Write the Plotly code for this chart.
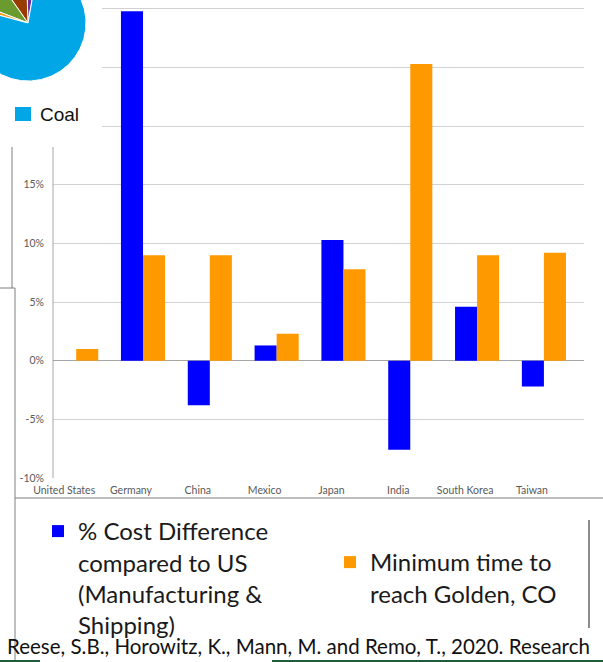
import numpy as np
import plotly.graph_objects as go

W, H = 603, 662

# ---- bar chart data -------------------------------------------------------
countries = ["United States", "Germany", "China", "Mexico",
             "Japan", "India", "South Korea", "Taiwan"]
cost_diff = [0.0, 29.8, -3.8, 1.3, 10.3, -7.6, 4.6, -2.2]
min_time = [1.0, 9.0, 9.0, 2.3, 7.8, 25.3, 9.0, 9.2]

y_tick_vals = [-10, -5, 0, 5, 10, 15, 20, 25, 30]
y_tick_text = ["-10%", "-5%", "0%", "5%", "10%", "15%", "", "", ""]

cost_name = "% Cost Difference<br>compared to US<br>(Manufacturing &<br>Shipping)"
time_name = "Minimum time to<br>reach Golden, CO"

# ---- pie (electricity mix) data --------------------------------------------
pie_shares = [3.3, 9.2, 9.4, 1.7, 76.4]
pie_colors = ["#7030a0", "#993c00", "#6b9b2e", "#f59d1c", "#00a6e6"]
pie_start_deg = 80
coal_label = "Coal"

citation = "Reese, S.B., Horowitz, K., Mann, M. and Remo, T., 2020. Research"


def px(x):
    return x / W


def py(y):
    return 1 - y / H


fig = go.Figure()

fig.add_bar(x=countries, y=cost_diff, name=cost_name, legend="legend",
            marker=dict(color="#0000ff", line=dict(width=0)),
            hoverinfo="x+y")
fig.add_bar(x=countries, y=min_time, name=time_name, legend="legend2",
            marker=dict(color="#ff9900", line=dict(width=0)),
            hoverinfo="x+y")

# pie wedges drawn on a pixel-scaled helper subplot
cx, cy, r = 28, 23, 58
total = sum(pie_shares)
angle = pie_start_deg
for share, color in zip(pie_shares, pie_colors):
    span = share / total * 360
    th = np.radians(np.linspace(angle, angle + span, int(span) + 2))
    xs = [cx] + list(cx + r * np.cos(th)) + [cx]
    ys = [cy] + list(cy - r * np.sin(th)) + [cy]
    fig.add_scatter(x=xs, y=ys, xaxis="x3", yaxis="y3", mode="lines",
                    fill="toself", fillcolor=color,
                    line=dict(color="white", width=1),
                    showlegend=False, hoverinfo="skip")
    angle += span

tick_font = dict(family="Lato", size=10.5, color="#595959")
legend_font = dict(family="Lato", size=24, color="#1a1a1a")

fig.update_layout(
    width=W, height=H,
    margin=dict(l=0, r=0, t=0, b=0, autoexpand=False),
    paper_bgcolor="white", plot_bgcolor="white",
    barmode="group", bargap=0.34, bargroupgap=0,
    font=dict(family="Lato", color="#595959"),
    xaxis=dict(domain=[px(53), px(584)], range=[-0.347, 7.6],
               type="category", showgrid=False, zeroline=False,
               showline=False, ticks="", tickfont=tick_font,
               ticklabelshift=-12, ticklabelstandoff=4, automargin=False),
    yaxis=dict(domain=[py(478), 1], range=[-10, 30.75],
               tickvals=y_tick_vals, ticktext=y_tick_text,
               showgrid=True, gridcolor="#d2d2d2", gridwidth=1,
               zeroline=True, zerolinecolor="#a6a6a6", zerolinewidth=1,
               showline=False, ticks="", tickfont=tick_font,
               ticklabelstandoff=8, automargin=False),
    xaxis3=dict(domain=[0, px(102)], range=[0, 102], visible=False,
                anchor="y3", fixedrange=True, automargin=False),
    yaxis3=dict(domain=[py(146), 1], range=[146, 0], visible=False,
                anchor="x3", fixedrange=True, automargin=False),
    legend=dict(x=px(38), y=py(509), xanchor="left", yanchor="top",
                font=legend_font, bgcolor="rgba(0,0,0,0)", valign="top",
                borderwidth=0),
    legend2=dict(x=px(330), y=py(540), xanchor="left", yanchor="top",
                 font=legend_font, bgcolor="rgba(0,0,0,0)", valign="top",
                 borderwidth=0),
    showlegend=True,
)

shapes = [
    # white backdrop behind the pie
    dict(type="rect", xref="x3", yref="y3", x0=0, x1=102, y0=0, y1=146,
         fillcolor="white", line=dict(width=0), layer="below"),
    # value axis line
    dict(type="line", xref="paper", yref="paper", x0=px(53), x1=px(53),
         y0=py(147), y1=py(478), line=dict(color="#a6a6a6", width=1)),
    # coal legend key
    dict(type="rect", xref="paper", yref="paper", x0=px(15), x1=px(31),
         y0=py(121), y1=py(107), fillcolor="#00a6e6", line=dict(width=0)),
]

frame = "#7f7f7f"
frame_lines = [
    ((12, 147), (12, 288), frame, 1),
    ((0, 288), (15, 288), frame, 1),
    ((15, 288), (15, 662), frame, 1),
    ((15, 498), (603, 498), frame, 1),
    ((589, 520), (589, 628), "#8c8c8c", 2),
    ((0, 661), (40, 661), "#1f5c3a", 2),
    ((272, 661), (603, 661), "#1f5c3a", 2),
]
for (x0, y0), (x1, y1), col, wd in frame_lines:
    shapes.append(dict(type="line", xref="paper", yref="paper",
                       x0=px(x0), x1=px(x1), y0=py(y0), y1=py(y1),
                       line=dict(color=col, width=wd)))

fig.update_layout(shapes=shapes)

fig.add_annotation(x=px(38), y=py(114), xref="paper", yref="paper",
                   text=coal_label, showarrow=False, xanchor="left",
                   yanchor="middle",
                   font=dict(family="Liberation Sans", size=19, color="#111111"))
fig.add_annotation(x=px(5), y=py(646), xref="paper", yref="paper",
                   text=citation, showarrow=False, xanchor="left",
                   yanchor="middle",
                   font=dict(family="Lato", size=20.5, color="#111111"))

fig.write_html("out.html")
